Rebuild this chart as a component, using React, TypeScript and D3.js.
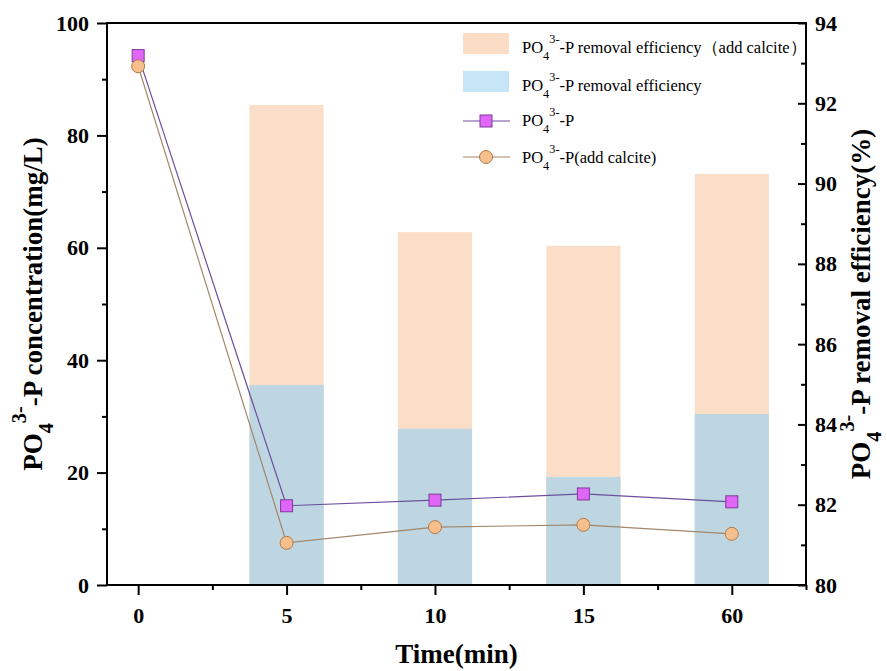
import React, { useEffect, useRef } from "react";
import * as d3 from "d3";

// sampling times (min)
const categories = ["0", "5", "10", "15", "60"];
// removal efficiency (%), right axis
const effCalcite = [null, 91.96, 88.79, 88.45, 90.24];
const effPlain = [null, 84.98, 83.89, 82.69, 84.26];
// concentration (mg/L), left axis
const concPlain = [94.2, 14.1, 15.1, 16.2, 14.8];
const concCalcite = [92.3, 7.5, 10.3, 10.7, 9.1];
const leftTicks = [0, 20, 40, 60, 80, 100];
const leftMinor = [10, 30, 50, 70, 90];
const rightTicks = [80, 82, 84, 86, 88, 90, 92, 94];
const rightMinor = [81, 83, 85, 87, 89, 91, 93];

const serif = "'Liberation Serif', 'Times New Roman', serif";

// PO4(3-) with sub/superscripts
const chemText = (sel, x, y, size, rest, weight) => {
  const t = sel.append("text")
    .attr("x", x)
    .attr("y", y)
    .attr("font-family", serif)
    .attr("font-size", size)
    .attr("font-weight", weight)
    .attr("fill", "#000");
  t.append("tspan").text("PO");
  t.append("tspan").attr("font-size", size * 0.75).attr("dy", size * 0.4).text("4");
  t.append("tspan").attr("font-size", size * 0.75).attr("dy", -size * 1.0).text("3-");
  t.append("tspan").attr("dy", size * 0.6).text(rest);
  return t;
};

export default function App() {
  const svgRef = useRef(null);

  useEffect(() => {
    const width = 887;
    const height = 671;
    const svg = d3.select(svgRef.current)
      .attr("width", width)
      .attr("height", height);

    svg.selectAll("*").remove();

    const margin = { left: 107, right: 81, top: 23, bottom: 86 };

    const x = d3.scaleLinear()
      .domain([-0.21, 4.5])
      .range([margin.left, width - margin.right]);
    const yL = d3.scaleLinear()
      .domain([0, 100])
      .range([height - margin.bottom, margin.top]);
    const yR = d3.scaleLinear()
      .domain([80, 94])
      .range([height - margin.bottom, margin.top]);

    const barW = (x(1) - x(0)) * 0.5;

    // bars: calcite behind, plain on top
    const drawBars = (vals, fill) => {
      svg.append("g")
        .selectAll("rect")
        .data(vals.map((v, i) => ({ v, i })).filter((d) => d.v != null))
        .join("rect")
        .attr("x", (d) => x(d.i) - barW / 2)
        .attr("y", (d) => yR(d.v))
        .attr("width", barW)
        .attr("height", (d) => yR(80) - yR(d.v))
        .attr("fill", fill);
    };
    drawBars(effCalcite, "#fadec7");
    drawBars(effPlain, "#bed6e2");

    // lines
    const line = d3.line()
      .x((d, i) => x(i))
      .y((d) => yL(d));

    svg.append("path")
      .attr("d", line(concPlain))
      .attr("fill", "none")
      .attr("stroke", "#6b4f9e")
      .attr("stroke-width", 1.2);
    svg.append("path")
      .attr("d", line(concCalcite))
      .attr("fill", "none")
      .attr("stroke", "#a3876a")
      .attr("stroke-width", 1.2);

    svg.append("g")
      .selectAll("rect")
      .data(concPlain)
      .join("rect")
      .attr("x", (d, i) => x(i) - 6)
      .attr("y", (d) => yL(d) - 6)
      .attr("width", 12)
      .attr("height", 12)
      .attr("fill", "#e066f7")
      .attr("stroke", "#7d3a99")
      .attr("stroke-width", 1);

    svg.append("g")
      .selectAll("circle")
      .data(concCalcite)
      .join("circle")
      .attr("cx", (d, i) => x(i))
      .attr("cy", (d) => yL(d))
      .attr("r", 6.5)
      .attr("fill", "#f7bf8c")
      .attr("stroke", "#b07a4a")
      .attr("stroke-width", 1);

    // axes
    const styleAxis = (g) => {
      g.select(".domain").remove();
      g.selectAll("line").attr("stroke", "#000").attr("stroke-width", 2);
      g.selectAll("text")
        .attr("font-family", serif)
        .attr("font-size", 22)
        .attr("font-weight", "bold")
        .attr("fill", "#000");
    };

    svg.append("g")
      .attr("transform", `translate(${margin.left},0)`)
      .call(d3.axisLeft(yL).tickValues(leftTicks).tickSize(10).tickPadding(8))
      .call(styleAxis);
    svg.append("g")
      .attr("transform", `translate(${margin.left},0)`)
      .call(d3.axisLeft(yL).tickValues(leftMinor).tickSize(5).tickFormat(() => ""))
      .call(styleAxis);

    svg.append("g")
      .attr("transform", `translate(${width - margin.right},0)`)
      .call(d3.axisRight(yR).tickValues(rightTicks).tickSize(-8).tickPadding(9))
      .call(styleAxis);
    svg.append("g")
      .attr("transform", `translate(${width - margin.right},0)`)
      .call(d3.axisRight(yR).tickValues(rightMinor).tickSize(-5).tickFormat(() => ""))
      .call(styleAxis);

    svg.append("g")
      .attr("transform", `translate(0,${height - margin.bottom})`)
      .call(d3.axisBottom(x).tickValues([0, 1, 2, 3, 4]).tickFormat((i) => categories[i]).tickSize(10).tickPadding(12))
      .call(styleAxis);
    svg.append("g")
      .attr("transform", `translate(0,${height - margin.bottom})`)
      .call(d3.axisBottom(x).tickValues([0.5, 1.5, 2.5, 3.5, 4.5]).tickSize(5).tickFormat(() => ""))
      .call(styleAxis);

    // frame
    svg.append("rect")
      .attr("x", margin.left)
      .attr("y", margin.top)
      .attr("width", width - margin.left - margin.right)
      .attr("height", height - margin.top - margin.bottom)
      .attr("fill", "none")
      .attr("stroke", "#000")
      .attr("stroke-width", 2);

    // axis titles
    const midY = (margin.top + height - margin.bottom) / 2;
    chemText(svg, 0, 0, 27, "-P concentration(mg/L)", "bold")
      .attr("text-anchor", "middle")
      .attr("transform", `translate(42,${midY}) rotate(-90)`);
    chemText(svg, 0, 0, 27, "-P removal efficiency(%)", "bold")
      .attr("text-anchor", "middle")
      .attr("transform", `translate(870,${midY}) rotate(-90)`);
    svg.append("text")
      .attr("x", (margin.left + width - margin.right) / 2)
      .attr("y", 663)
      .attr("text-anchor", "middle")
      .attr("font-family", serif)
      .attr("font-size", 27)
      .attr("font-weight", "bold")
      .text("Time(min)");

    // legend
    const lg = svg.append("g");
    lg.append("rect").attr("x", 463).attr("y", 33).attr("width", 46).attr("height", 21).attr("fill", "#fbdcc4");
    chemText(lg, 522, 53, 16.5, "-P removal efficiency（add calcite）", "normal");
    lg.append("rect").attr("x", 463).attr("y", 71).attr("width", 46).attr("height", 21).attr("fill", "#c6e6f8");
    chemText(lg, 522, 91, 16.5, "-P removal efficiency", "normal");
    lg.append("line").attr("x1", 463).attr("x2", 510).attr("y1", 121).attr("y2", 121)
      .attr("stroke", "#6b4f9e").attr("stroke-width", 1.2);
    lg.append("rect").attr("x", 480).attr("y", 115).attr("width", 12).attr("height", 12)
      .attr("fill", "#e066f7").attr("stroke", "#7d3a99");
    chemText(lg, 522, 126, 16.5, "-P", "normal");
    lg.append("line").attr("x1", 463).attr("x2", 510).attr("y1", 157).attr("y2", 157)
      .attr("stroke", "#a3876a").attr("stroke-width", 1.2);
    lg.append("circle").attr("cx", 486).attr("cy", 157).attr("r", 6.5)
      .attr("fill", "#f7bf8c").attr("stroke", "#b07a4a");
    chemText(lg, 522, 163, 16.5, "-P(add calcite)", "normal");
  }, []);

  return (
    <svg ref={svgRef} style={{ position: "absolute", left: 0, top: 0 }} />
  );
}
